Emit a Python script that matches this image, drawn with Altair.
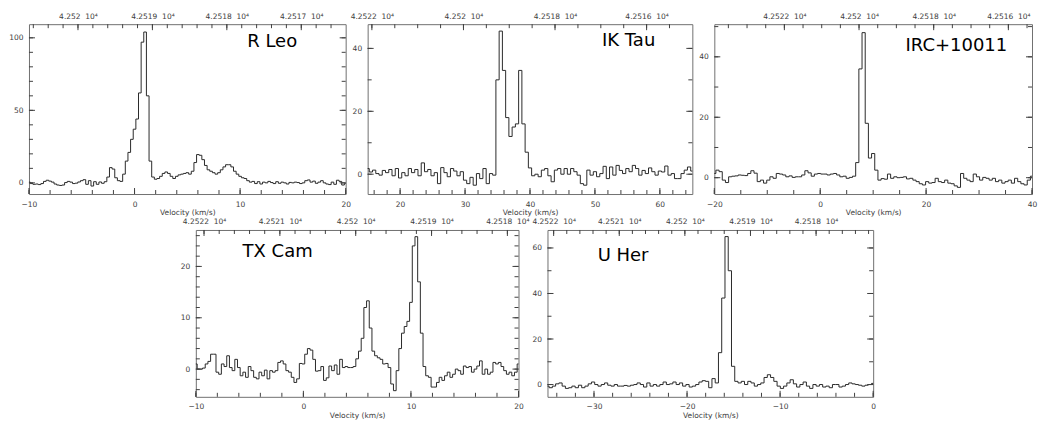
import altair as alt
import numpy as np
import pandas as pd

# MHz per km/s at 42.519 GHz (SiO v=3 J=1-0)
K = 42519.373 / 299792.458

names = ["R Leo", "IK Tau", "IRC+10011", "TX Cam", "U Her"]
v_start = [-10.0, 15.0, -20.0, -10.0, -35.0]
v_step = [0.25, 0.5, 0.6, 0.25, 0.35]
v_range = [[-10, 20], [15, 65], [-20, 40], [-10, 20], [-35, 0]]
t_range = [[-7.7, 109.4], [-6.3, 47.7], [-5.4, 50.8], [-5.4, 27.1], [-5.4, 67.9]]
f_at_zero = [42519.24, 42524.22, 42521.04, 42520.69, 42517.13]
x_major = [10, 10, 20, 10, 10]
x_minor = [2, 2, 5, 2, 2]
y_major = [50, 20, 20, 10, 20]
y_minor = [10, 10, 10, 2, 10]
f_major = [1, 2, 2, 1, 1]
f_minor = [0.2, 0.5, 0.5, 0.2, 0.2]

r_leo = [
    0.5, -0.5, -1.0, -0.8,
    -1.2, -0.5, 1.0, 1.8,
    1.2, 0.5, -0.8, -1.5,
    -1.8, -1.5, 0.2, 1.0,
    0.5, -0.5, -0.2, 0.6,
    1.5, 2.2, -1.0, 1.5,
    -2.2, 0.8, -1.0, 0.6,
    -0.3, 0.8, 4.0, 10.5,
    9.5, 3.5, 1.5, 1.0,
    6.0, 15, 21, 30,
    37, 44, 62, 97,
    104, 60, 15, 4,
    2.5, 3.0, 4.5, 6.5,
    7.5, 6.5, 4.5, 3.0,
    4.5, 5.5, 6.0, 6.5,
    7.0, 6.0, 8.0, 14,
    19.5, 19, 16, 12,
    9, 8, 7, 6,
    7, 9, 11, 12.5,
    12.5, 11, 8, 6,
    4.5, 3.5, 3.0, 1.5,
    0.5, 1.0, -0.5, 0.8,
    -0.8, 0.5, 0.0, 1.0,
    0.2, -0.5, 0.8, -0.3,
    0.5, 0.0, -0.8, 0.3,
    0.0, 0.5, 0.2, -0.5,
    0.0, 1.5, 2.0, 0.5,
    1.2, -0.3, 0.5, 1.5,
    0.0, -0.8, -1.2, 0.5,
    -1.0, 1.8, 1.0, -1.5,
    -0.5,
]

ik_tau = [
    1.8, 0.7, 1.3, 0.2, -0.3, 1.2, 0.5, 1.5, -0.5, 1.8,
    -1.2, 0.5, -0.5, 1.8, 0.5, 1.5, -0.5, 3.6, 0.8, 1.5,
    -0.5, 0.5, -3.0, 2.1, 0.5, -0.8, 1.8, 1.0, -0.5, 0.8,
    -1.9, -3.0, -1.0, -3.5, 0.2, -1.4, 1.8, -3.0, 0.2, -0.3,
    30, 45.5, 33, 18, 12, 15, 16, 33, 16, 7,
    2.0, -0.5, 0.0, -0.8, 1.3, 1.8, -0.5, -2.4, 1.3, 1.8,
    0.0, 1.8, 0.0, 1.8, 0.8, -0.3, -3.0, -3.5, 1.3, -0.3,
    0.8, -0.8, 0.2, 2.5, -1.4, 2.3, -0.3, 2.8, 1.2, 0.2,
    1.8, 0.8, 2.8, 1.8, -0.3, 1.2, 0.2, 2.0, 0.8, -0.3,
    1.0, 0.7, 2.6, -0.3, 0.2, -1.4, -1.4, 0.2, 1.3, 2.3,
    1.0,
]

irc_10011 = [
    1.4, 2.5, 2.0, -0.8, -1.6, 0.3, 0.5, 0.6, 0.9, 0.8,
    0.7, 1.4, 2.3, 1.5, -1.3, -0.8, -1.8, -0.8, 0.3, -0.2,
    1.4, 1.2, 0.9, 0.3, 0.6, 0.1, 0.3, 0.3, 0.9, 2.3,
    1.6, 0.5, 1.2, 1.4, 1.2, 1.2, 0.9, 1.2, 1.4, 0.9,
    0.3, 0.5, -0.2, 0.1, 0.5, 5.0, 36, 48, 18, 6.5,
    8.0, 2.5, -0.8, -0.3, -0.5, 1.2, -0.2, 0.3, 0.0, 0.1,
    0.3, -0.4, -0.2, -0.8, -1.3, -2.0, -2.4, -1.3, -1.8, -1.6,
    -0.2, -1.3, -1.6, -0.8, -1.8, -2.0, -2.7, -3.2, 1.4, -0.2,
    -0.8, -1.3, 1.2, 0.3, -0.8, 0.1, -0.2, -0.8, -0.2, -1.3,
    -0.8, -1.8, -1.3, -0.8, -1.8, -0.2, -1.3, -2.0, -2.4, -0.8,
    0.5,
]

tx_cam = [
    1.0, 0.0, 0.0, 0.2,
    1.0, 1.5, 2.9, 2.9,
    -0.6, -1.0, 1.0, 0.5,
    2.6, 0.3, -0.3, 1.9,
    0.3, -1.3, -0.6, -1.6,
    0.5, -0.3, -1.6, -1.9,
    -0.6, -1.3, -0.2, -1.9,
    -0.3, -0.6, -0.3, 1.3,
    1.6, 1.0, -0.3, -0.6,
    -1.6, -2.6, -1.9, 1.1,
    1.0, 2.9, 4.0, 3.7,
    1.9, -0.4, -0.3, 0.5,
    -2.2, -1.7, 0.6, -0.3,
    0.8, -1.0, 1.9, 0.3,
    0.5, 0.3, 0.3, 0.5,
    2.0, 3.5, 6.0, 12.0,
    13.3, 8.0, 3.5, 2.6,
    2.2, 1.9, 1.0, 1.1,
    0.3, -2.9, -4.2, -0.3,
    4.0, 7.0, 8.3, 9.3,
    13.0, 24.0, 25.8, 17.0,
    7.0, 0.5, -1.3, -1.6,
    -3.5, -3.5, -2.6, -1.6,
    -2.2, -1.3, -0.6, -1.6,
    -1.0, 0.0, -0.3, -1.0,
    0.6, 0.3, 0.5, -0.6,
    0.0, 0.6, 1.6, -1.0,
    0.0, -1.0, -0.6, 1.3,
    1.0, 1.3, 0.5, -0.3,
    -1.0, -0.6, -1.3, -0.6,
    1.0,
]

u_her = [
    -0.7, -1.4, -0.7, 0.3, 0.7, -0.7, -1.7, -1.4, -0.7, -1.4,
    -0.3, -1.4, -0.7, 0.3, 1.1, 0.0, -0.7, 0.0, 0.7, -0.3,
    -0.7, 0.0, -0.7, -0.7, -0.4, -0.7, -0.3, 0.0, 0.7, 0.0,
    -1.1, 0.7, -0.7, 0.0, -0.7, 0.0, 1.1, 0.0, 0.3, 1.1,
    0.0, 0.7, -0.7, 0.0, -1.1, -0.7, 0.0, 1.1, 1.7, 1.4,
    -1.4, 2.6, 0.7, 14, 38, 65, 50, 8, 1.4, 0.7,
    1.4, 0.0, 1.4, 0.7, -0.7, 0.0, 0.7, 3.1, 4.3, 3.1,
    1.4, -0.7, -1.7, -0.7, 0.7, 2.1, 0.3, -1.1, 0.0, 1.1,
    -0.7, -1.7, 0.0, -0.7, 0.0, -1.1, -0.7, -1.4, 0.0, 0.0,
    -1.1, -0.7, 0.0, 0.7, 0.3, 0.0, -0.3, -0.7, -0.3, 0.0,
    0.5,
]

spectra = [r_leo, ik_tau, irc_10011, tx_cam, u_her]

# label anchor as a fraction of the plot frame (left, baseline)
label_frac = [[0.689, 0.236], [0.722, 0.226], [0.602, 0.26], [0.145, 0.264], [0.154, 0.287]]

FONT = "DejaVu Sans"
TXT = "#3c3c3c"
FRAME = "#707070"
TICK = "#404040"
LINE = "#2a2a2a"
MAJ_T = 6
MIN_T = 4
TOP_EXTENT = 13  # height taken by the frequency labels above the frame


def tick_values(lo, hi, step):
    lo, hi = min(lo, hi), max(lo, hi)
    k = int(np.ceil(lo / step - 1e-9))
    out = []
    while k * step <= hi + 1e-9:
        out.append(round(k * step, 4) + 0.0)
        k += 1
    return out


def rule_x(values, scale, y0, y1, axis=None):
    return alt.Chart(pd.DataFrame({"p": values})).mark_rule(color=TICK, strokeWidth=1).encode(
        x=alt.X("p:Q", scale=scale, axis=axis), y=alt.value(y0), y2=alt.value(y1))


def rule_y(values, scale, x0, x1):
    return alt.Chart(pd.DataFrame({"p": values})).mark_rule(color=TICK, strokeWidth=1).encode(
        y=alt.Y("p:Q", scale=scale, axis=None), x=alt.value(x0), x2=alt.value(x1))


def panel(k, W, H):
    vals = spectra[k]
    v = [v_start[k] + v_step[k] * i for i in range(len(vals))]
    f0 = f_at_zero[k]
    df = pd.DataFrame({"v": v, "T": vals})
    vlo, vhi = v_range[k]
    tlo, thi = t_range[k]
    flo, fhi = f0 - K * vlo, f0 - K * vhi
    xs = alt.Scale(domain=[vlo, vhi], nice=False, zero=False)
    ys = alt.Scale(domain=[tlo, thi], nice=False, zero=False)
    fs = alt.Scale(domain=[flo, fhi], nice=False, zero=False)

    line = alt.Chart(df).mark_line(interpolate="step", color=LINE, strokeWidth=1).encode(
        x=alt.X("v:Q", scale=xs, axis=alt.Axis(
            orient="bottom", values=tick_values(vlo, vhi, x_major[k]), ticks=False,
            domain=False, grid=False, labelPadding=6, labelFlush=False, labelOverlap=False,
            title="Velocity (km/s)", titlePadding=1)),
        y=alt.Y("T:Q", scale=ys, axis=alt.Axis(
            orient="left", values=tick_values(tlo, thi, y_major[k]), ticks=False,
            domain=False, grid=False, labelPadding=6, labelOverlap=False, labelFlush=False,
            title=None)),
    )
    freq_axis = alt.Axis(
        orient="top", values=tick_values(fhi, flo, f_major[k]), ticks=False,
        domain=False, grid=False, labelPadding=4, labelFlush=False, labelOverlap=False,
        labelExpr="format(datum.value / 10000, '.5~f') + ' \u00a010\u2074'", title=None)

    layers = [line]
    for step, size in [(x_minor[k], MIN_T), (x_major[k], MAJ_T)]:
        layers.append(rule_x(tick_values(vlo, vhi, step), xs, H, H - size))
    layers.append(rule_x(tick_values(fhi, flo, f_minor[k]), fs, 0, MIN_T))
    layers.append(rule_x(tick_values(fhi, flo, f_major[k]), fs, 0, MAJ_T, axis=freq_axis))
    for step, size in [(y_minor[k], MIN_T), (y_major[k], MAJ_T)]:
        layers.append(rule_y(tick_values(tlo, thi, step), ys, 0, size))
        layers.append(rule_y(tick_values(tlo, thi, step), ys, W, W - size))

    lx, ly = label_frac[k]
    title = alt.TitleParams(
        text=names[k], orient="top", anchor="start", frame="group", offset=0,
        dx=lx * W, dy=ly * H + TOP_EXTENT, baseline="alphabetic",
        font=FONT, fontSize=18, fontWeight="normal", color="black")

    return (
        alt.layer(*layers)
        .resolve_scale(x="independent")
        .resolve_axis(x="independent", y="independent")
        .properties(width=W, height=H, title=title)
    )


H1, H2 = 170, 167
p1 = panel(0, 317, H1)
p2 = panel(1, 325, H1)
p3 = panel(2, 318, H1)
p4 = panel(3, 323, H2)
p5 = panel(4, 326, H2)

spacer = alt.Chart(pd.DataFrame({"z": [0]})).mark_point(opacity=0).encode(
    x=alt.X("z:Q", axis=None), y=alt.Y("z:Q", axis=None)
).properties(width=138, height=H2, view=alt.ViewBackground(stroke="transparent"))

row1 = alt.hconcat(p1, p2, p3, spacing=22, bounds="flush")
row2 = alt.hconcat(spacer, p4, p5, spacing=29, bounds="flush")

chart = (
    alt.vconcat(row1, row2, spacing=0)
    .properties(padding={"left": 0, "top": 3, "right": 0, "bottom": 0})
    .configure_view(stroke=FRAME, strokeWidth=1)
    .configure_axis(
        labelFont=FONT, labelFontSize=7.5, labelColor=TXT,
        titleFont=FONT, titleFontSize=7.5, titleColor=TXT, titleFontWeight="normal",
        grid=False,
    )
)

chart.save("out.html", embed_options={"renderer": "svg", "actions": False})
